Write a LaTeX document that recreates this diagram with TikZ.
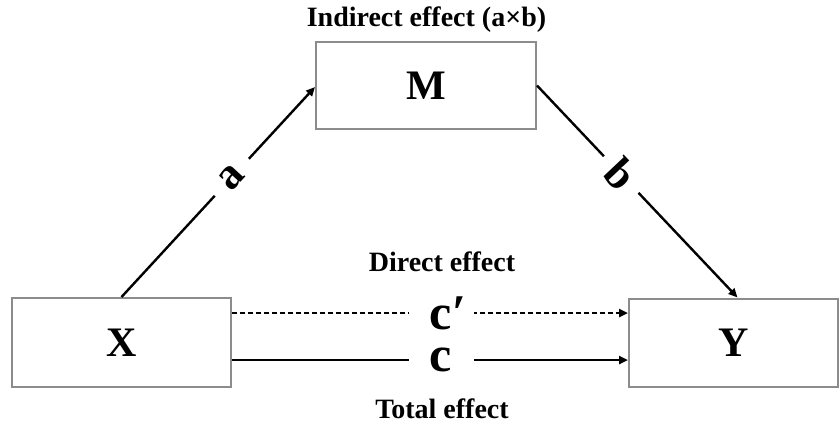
\documentclass[tikz,border=0pt]{standalone}
\usepackage{fontspec}
\setmainfont{Liberation Serif}
\usetikzlibrary{arrows.meta}
\tikzset{
  varbox/.style={draw=black!45, line width=2pt, rectangle, inner sep=0pt,
    font=\fontsize{42}{46}\selectfont\bfseries},
  arrowline/.style={line width=2.4pt, -{Triangle[length=9pt,width=8pt]}},
  efflabel/.style={font=\fontsize{28}{32}\selectfont\bfseries, inner sep=0pt},
  coef/.style={font=\fontsize{50}{54}\selectfont\bfseries, fill=white, inner sep=0pt, minimum width=65pt, minimum height=28pt},
  slopecoef/.style={font=\fontsize{44}{48}\selectfont\bfseries, fill=white, inner sep=0pt, minimum width=50pt, minimum height=20pt, sloped}
}
\begin{document}
\begin{tikzpicture}[x=1pt,y=-1pt]
\useasboundingbox (0,0) rectangle (839,424);
\node[varbox, minimum width=220pt, minimum height=87pt] (M) at (426,85.5) {M};
\node[varbox, minimum width=219pt, minimum height=89pt] (X) at (121.5,342.5) {X};
\node[varbox, minimum width=209pt, minimum height=88pt] (Y) at (733.5,342.5) {Y};
\node[efflabel] (ind) at (426.5,20) {Indirect effect (a×b)};
\node[efflabel] (dir) at (442,262) {Direct effect};
\node[efflabel] (tot) at (442,409) {Total effect};
\draw[arrowline] (X.north) -- node[slopecoef, pos=0.57] (la) {a} ([yshift=-1.5pt]M.west);
\draw[arrowline] (M.east) -- node[slopecoef, pos=0.42] (lb) {b} ([xshift=4pt]Y.north);
\draw[arrowline, dash pattern=on 5pt off 3pt] ([yshift=29.5pt]X.east) -- node[coef, pos=0.528] (lcp) {c\rlap{′}} ([yshift=29.5pt]Y.west);
\draw[arrowline] ([yshift=-17.5pt]X.east) -- node[coef, pos=0.528] (lc) {c} ([yshift=-17.5pt]Y.west);
\end{tikzpicture}
\end{document}
